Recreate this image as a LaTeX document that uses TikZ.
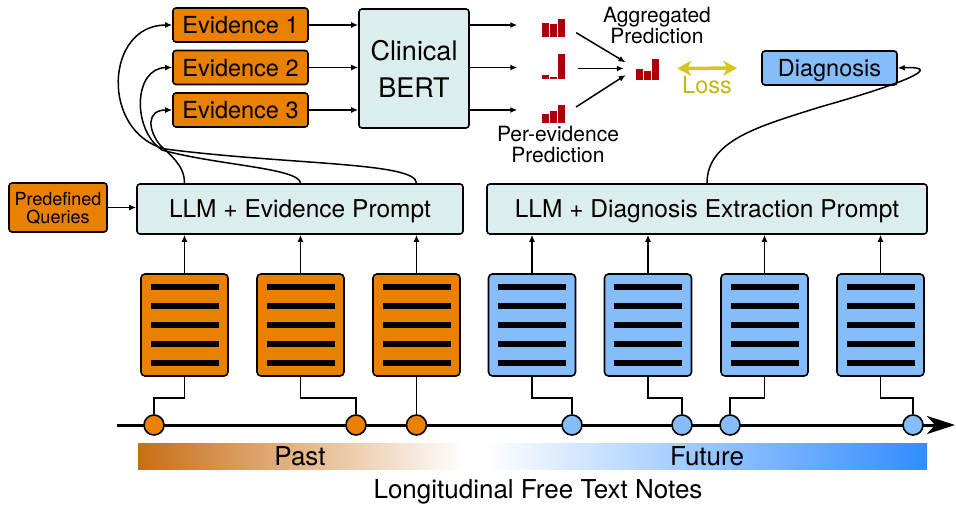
\documentclass[tikz,border=0pt]{standalone}
\usepackage{fontspec}
\setmainfont{TeX Gyre Heros}
\usepackage{tikz}
\usetikzlibrary{arrows.meta}
\definecolor{orng}{RGB}{233,128,0}
\definecolor{mint}{RGB}{219,237,236}
\definecolor{skyb}{RGB}{133,188,250}
\definecolor{barred}{RGB}{170,0,10}
\definecolor{lossy}{RGB}{212,198,30}
\definecolor{losst}{RGB}{196,182,10}
\definecolor{pastc}{RGB}{200,110,20}
\definecolor{futc}{RGB}{50,140,255}
\newcommand{\predbars}[4]{%
  \fill[bar] (#1.south west) rectangle ++(7,-#2);
  \fill[bar] ([xshift=8pt]#1.south west) rectangle ++(7,-#3);
  \fill[bar] ([xshift=16pt]#1.south west) rectangle ++(7,-#4);}

\begin{document}
\begin{tikzpicture}[x=1pt,y=-1pt,>={Latex[length=7pt,width=6pt]},line width=1.5pt,
  evd/.style={draw,line width=1.6pt,rounded corners=3pt,fill=orng,minimum width=135pt,minimum height=34pt,inner sep=0pt,text depth=0pt,font=\fontsize{23.5}{26}\selectfont},
  llm/.style={draw,line width=1.6pt,rounded corners=3pt,fill=mint,minimum height=50pt,inner sep=0pt,text depth=0pt,font=\fontsize{24.5}{28}\selectfont},
  note/.style={draw,line width=1.6pt,rounded corners=4pt,minimum width=87pt,minimum height=102pt,inner sep=0pt},
  stamp/.style={draw,circle,line width=1.6pt,minimum size=20pt,inner sep=0pt},
  chart/.style={minimum width=23pt,inner sep=0pt},
  bar/.style={fill=barred},
  lbl/.style={align=center,inner sep=0pt,font=\fontsize{21}{21}\selectfont},
  big/.style={inner sep=0pt,font=\fontsize{26}{28}\selectfont},
  lossarr/.style={draw=lossy,line width=3.5pt,{Stealth[length=14pt,width=15pt,inset=4pt]}-{Stealth[length=14pt,width=15pt,inset=4pt]},shorten <=17pt,shorten >=24pt}]
  \useasboundingbox (0,0) rectangle (956,508);
  % top row
  \node[evd] (ev1) at (240.5,25) {Evidence 1};
  \node[evd] (ev2) at (240.5,67.5) {Evidence 2};
  \node[evd] (ev3) at (240.5,110) {Evidence 3};
  \node[llm,minimum width=110pt,minimum height=119pt,align=center,font=\fontsize{27}{37}\selectfont] (bert) at (414,68.5) {Clinical\\BERT};
  \node[chart,minimum height=18pt] (p1) at (554.5,27) {};
  \node[chart,minimum height=25pt] (p2) at (554.5,65.5) {};
  \node[chart,minimum height=18pt] (p3) at (554.5,113) {};
  \node[chart,minimum height=21pt] (agg) at (648,68.5) {};
  \predbars{p1}{14}{13}{18}
  \predbars{p2}{4}{2}{25}
  \predbars{p3}{9}{12}{18}
  \predbars{agg}{11}{9}{21}
  \node[lbl] (aggtxt) at (657,26) {Aggregated\\Prediction};
  \node[lbl] (pertxt) at (558,145) {Per-evidence\\Prediction};
  \node[llm,fill=skyb,minimum width=135pt,minimum height=34pt,font=\fontsize{23.5}{26}\selectfont] (diag) at (829.5,68) {Diagnosis};
  \node[inner sep=0pt,text=losst,font=\fontsize{23.5}{26}\selectfont] (losstxt) at (707,85.5) {Loss};
  % prompt row
  \node[evd,minimum width=98pt,minimum height=49pt,align=center,font=\fontsize{18}{18}\selectfont] (pq) at (58,207.5) {Predefined\\Queries};
  \node[llm,minimum width=326pt] (lep) at (300,209) {LLM + Evidence Prompt};
  \node[llm,minimum width=440pt] (ldp) at (707,209) {LLM + Diagnosis Extraction Prompt};
  % notes and timeline
  \shade[left color=pastc,right color=white] (138,443) rectangle (465,469);
  \fill[white] (465,443) rectangle (485,469);
  \shade[left color=white,right color=futc] (485,443) rectangle (927,469);
  \node[big,anchor=base] (past) at (300,465) {Past};
  \node[big,anchor=base] (fut) at (707,465) {Future};
  \node[big,anchor=base] (ltn) at (538,498) {Longitudinal Free Text Notes};
  \coordinate (tstart) at (117,425);
  \coordinate (tend) at (955,425);
  \draw[line width=3pt,-{Stealth[length=28pt,width=18pt,inset=8pt]}] (tstart) -- (tend);
  \foreach \x/\c [count=\i] in {184.5/orng,300.5/orng,416.5/orng,532/skyb,648/skyb,764.5/skyb,880.5/skyb}{
    \node[note,fill=\c] (d\i) at (\x,325) {};
    \foreach \k in {-2,...,2}
      \fill ([shift={(-34,\k*19-3)}]d\i.center) rectangle ++(68,6);
  }
  \foreach \x/\c [count=\i] in {154/orng,356/orng,416.5/orng,572/skyb,682/skyb,730/skyb,913/skyb}
    \node[stamp,fill=\c] (c\i) at (\x,425) {};
  \foreach \i in {1,...,7}
    \draw[line width=1.6pt] (d\i.south) -- ++(0,21) -| (c\i.north);
  \foreach \i in {1,2,3}
    \draw[->] (d\i.north) -- (d\i.north |- lep.south);
  \foreach \i in {4,...,7}
    \draw[->] (d\i.north) -- (d\i.north |- ldp.south);
  % connectors
  \draw[->] (pq.east) -- (pq.east -| lep.west);
  \draw[->] (lep.north -| d3.north) .. controls (416.5,162) and (290,165) .. (165,149) .. controls (100,132) and (105,25) .. (ev1.west);
  \draw[->] (lep.north -| d2.north) .. controls (300,168) and (215,165) .. (162,150) .. controls (132,130) and (133,68) .. (ev2.west);
  \draw[->] (lep.north -| d1.north) .. controls (184.5,165) and (170,155) .. (160,145) .. controls (148,130) and (146,110) .. (ev3.west);
  \draw[->] (ev1.east) -- (ev1 -| bert.west);
  \draw[->] (ev2.east) -- (ev2 -| bert.west);
  \draw[->] (ev3.east) -- (ev3 -| bert.west);
  \draw[->,shorten >=25pt] (ev1 -| bert.east) -- (ev1 -| p1.west);
  \draw[->,shorten >=25pt] (ev2 -| bert.east) -- (ev2 -| p2.west);
  \draw[->,shorten >=25pt] (ev3 -| bert.east) -- (ev3 -| p3.west);
  \draw[->,shorten <=11pt,shorten >=12pt] (p1.east) -- (agg.west);
  \draw[->,shorten <=11pt,shorten >=12pt] (p2.east |- agg.west) -- (agg.west);
  \draw[->,shorten <=11pt,shorten >=12pt] (p3.east) -- (agg.west);
  \draw[lossarr] (agg.east) -- (diag.west);
  \draw[->] (ldp.north) .. controls (707,140) and (760,126) .. (820,107) .. controls (905,83) and (945,66) .. (diag.east);
\end{tikzpicture}
\end{document}
